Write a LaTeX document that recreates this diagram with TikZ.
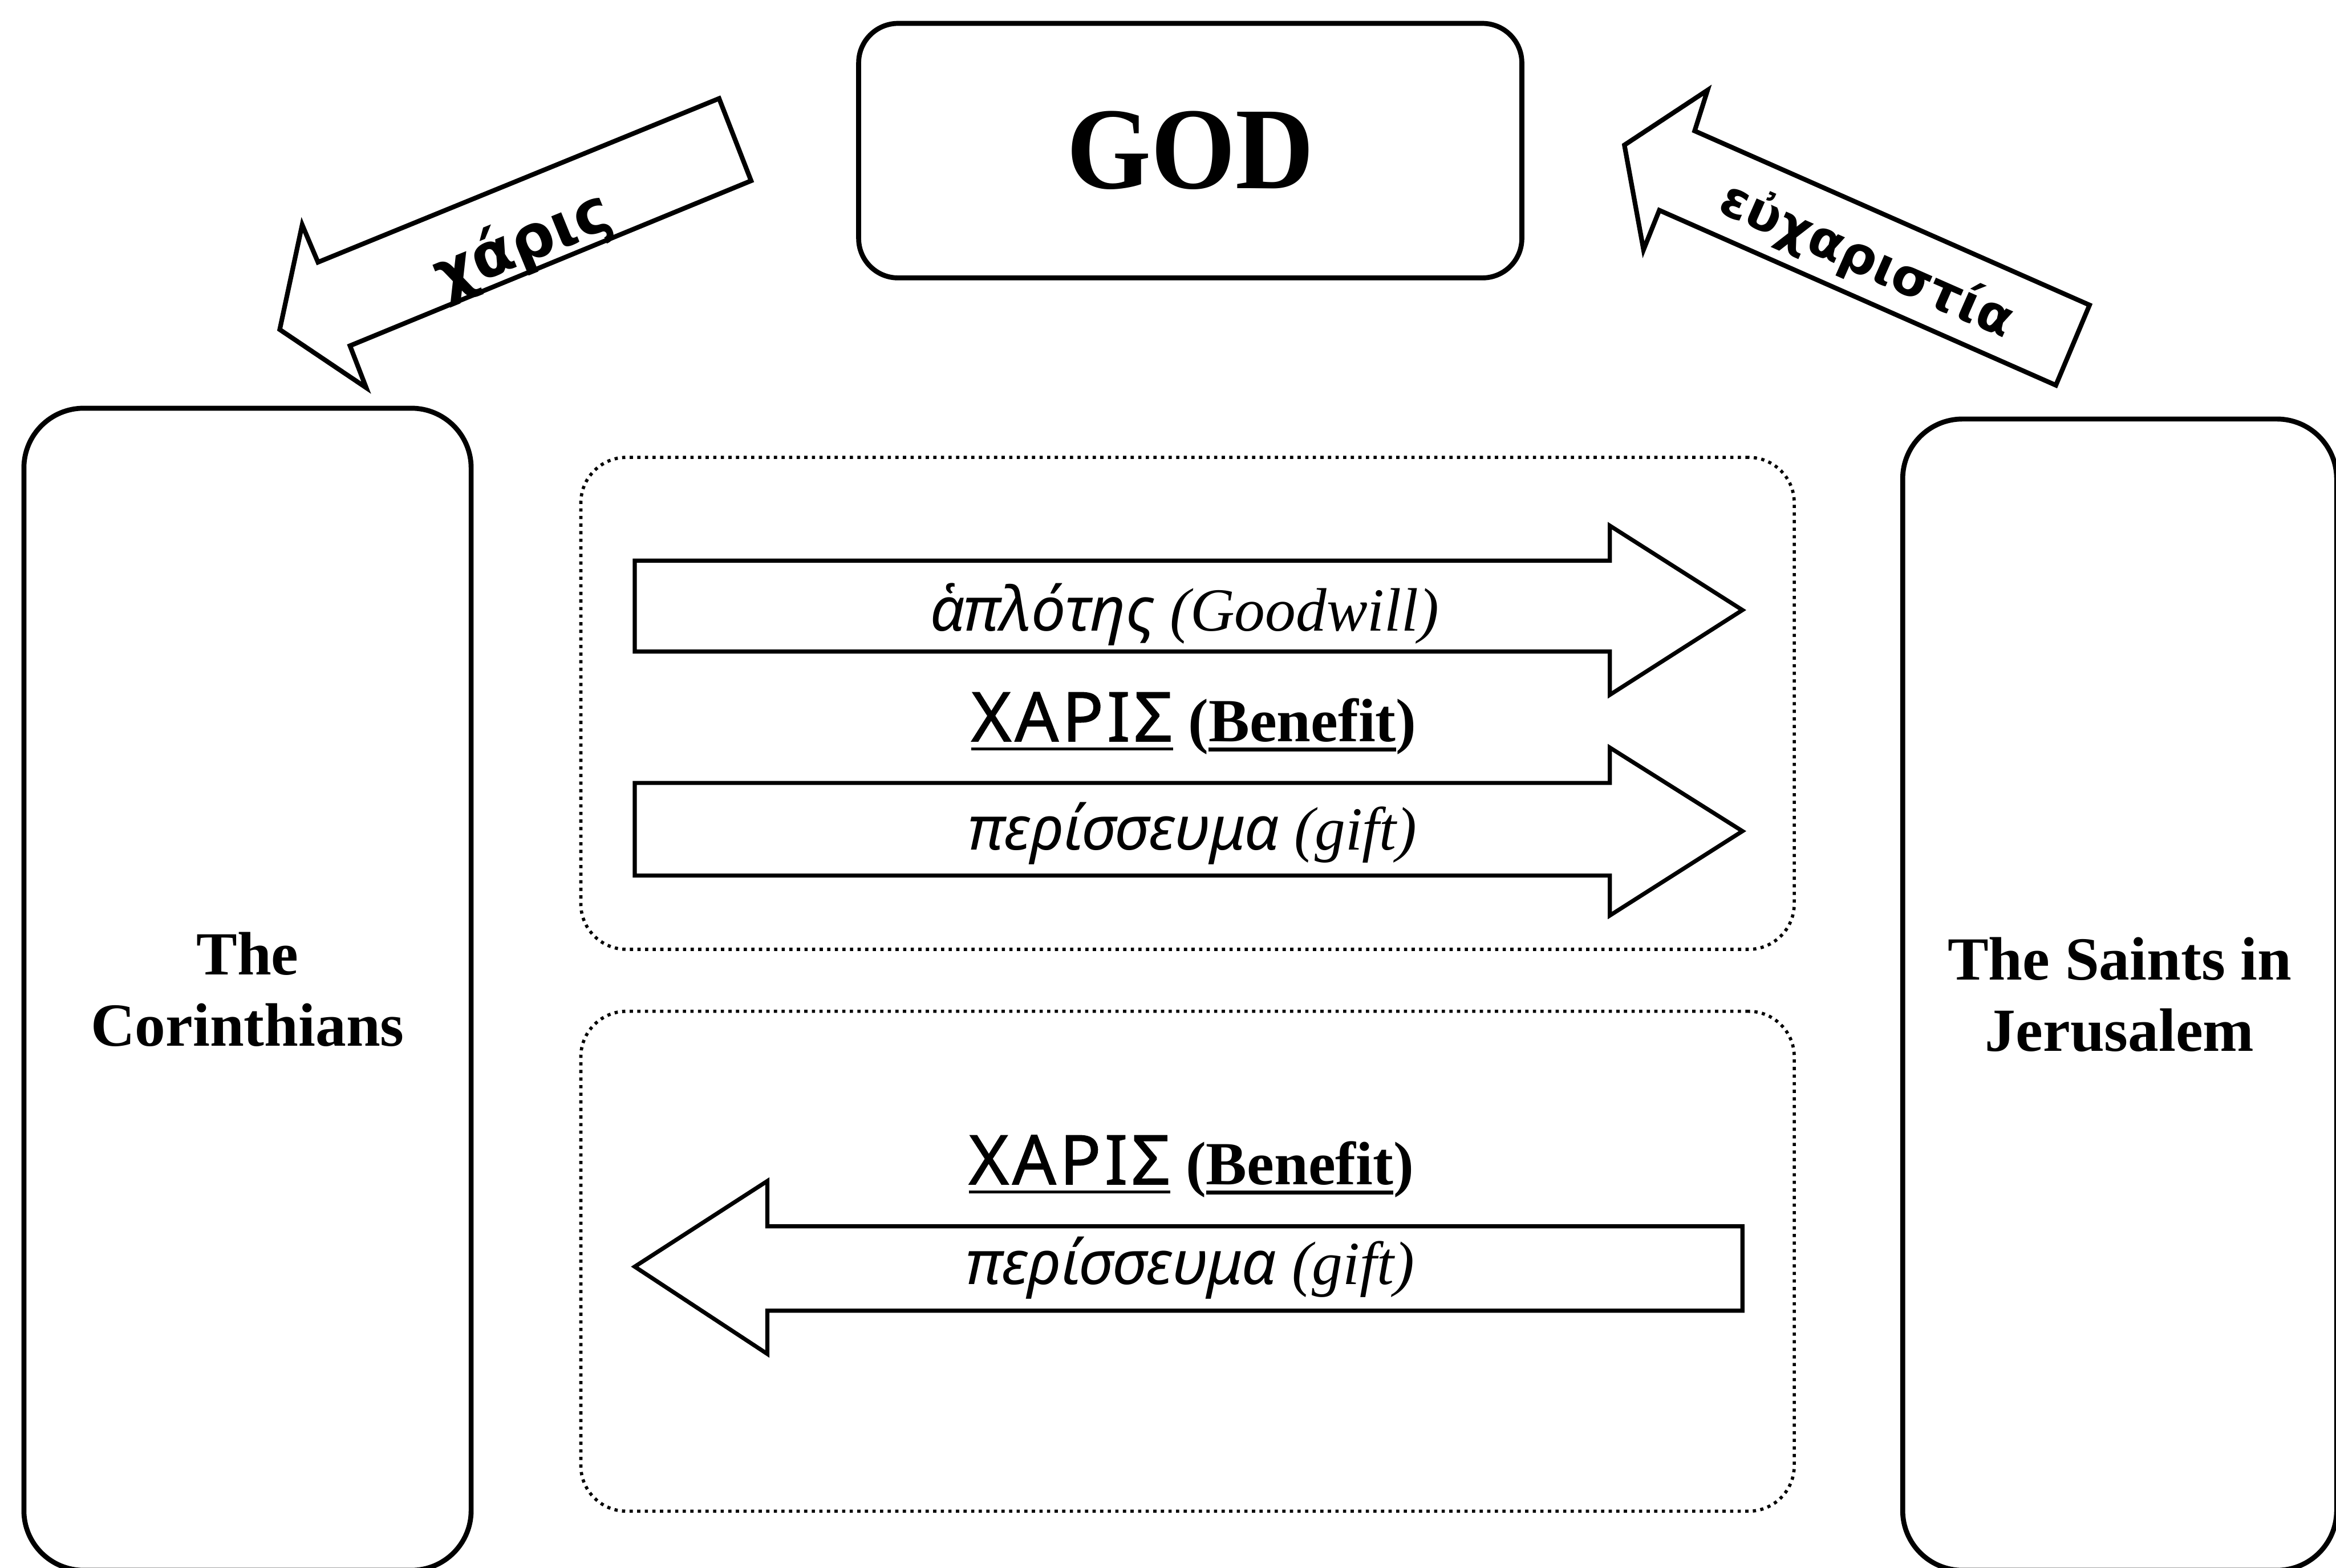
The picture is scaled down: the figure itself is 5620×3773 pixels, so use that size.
\documentclass[tikz,border=0pt]{standalone}
\usepackage{fontspec}
\usepackage{graphicx}
\setmainfont{Liberation Serif}
\newfontfamily\grsans{Noto Sans}
\newfontfamily\grcaps{Noto Sans}[FakeBold=1.2,LetterSpace=5]
\newfontfamily\tiltfont{DejaVu Sans}
\newcommand{\myulbar}[3]{\setbox0=\hbox{#3}\rlap{\rule[-#2]{\wd0}{#1}}\box0\relax}
\begin{document}
\begin{tikzpicture}[x=0.005cm,y=-0.005cm,
  solidbox/.style={draw,line width=1.7pt,rounded corners=0.72cm,inner sep=0pt},
  dotbox/.style={draw,line width=1.1pt,dash pattern=on 1.1pt off 1.5pt,rounded corners=0.55cm,inner sep=0pt,minimum width=14.61cm},
  blockarrow/.style={draw,line width=1.4pt,line join=miter},
  tiltarrow/.style={draw,line width=1.6pt,line join=miter},
  labeltext/.style={inner sep=0pt,anchor=base,font=\fontsize{21}{25}\selectfont},
  tilttext/.style={inner sep=0pt,font=\tiltfont\bfseries}
]
\useasboundingbox (0,0) rectangle (5620,3773);

% main boxes
\node[solidbox,rounded corners=0.475cm,minimum width=7.985cm,minimum height=3.065cm,
      font=\bfseries\fontsize{40}{44}\selectfont] (god) at (2863.5,362.5) {\scalebox{0.93}[1]{GOD}};
\node[solidbox,minimum width=5.385cm,minimum height=13.995cm,align=center,
      font=\bfseries\fontsize{21}{24.5}\selectfont] (cor) at (595.5,2380.5) {The\\Corinthians};
\node[solidbox,minimum width=5.225cm,minimum height=13.865cm,align=center,
      font=\bfseries\fontsize{21}{24.5}\selectfont] (saints) at (5099.5,2393.5) {The Saints in\\Jerusalem};

% dotted groups
\node[dotbox,minimum height=5.925cm] (upper) at (2857,1692.5) {};
\node[dotbox,minimum height=6.02cm] (lower) at (2857,3035) {};

% upper arrows
\draw[blockarrow] (1527,1349) -- (3873,1349) -- (3873,1265) -- (4192,1468) -- (3873,1672) -- (3873,1568) -- (1527,1568) -- cycle;
\draw[blockarrow] (1527,1884) -- (3873,1884) -- (3873,1799) -- (4192,2000) -- (3873,2203) -- (3873,2107) -- (1527,2107) -- cycle;
% lower arrow
\draw[blockarrow] (4192,2951) -- (1846,2951) -- (1846,2842) -- (1527,3048) -- (1846,3258) -- (1846,3154) -- (4192,3154) -- cycle;

% labels
\node[labeltext] (haplotes) at (2850,1518) {{\grsans\itshape ἁπλότης} {\itshape (Goodwill)}};
\node[labeltext] (charisA) at (2872,1784) {\myulbar{0.9pt}{3pt}{\grcaps\fontsize{23.5}{25}\selectfont ΧΑΡΙΣ}\ {\bfseries (\myulbar{1.4pt}{3.5pt}{Benefit})}};
\node[labeltext] (giftA) at (2869,2045) {{\grsans\itshape περίσσευμα} {\itshape (gift)}};
\node[labeltext] (charisB) at (2866,2850) {\myulbar{0.9pt}{3pt}{\grcaps\fontsize{23.5}{25}\selectfont ΧΑΡΙΣ}\ {\bfseries (\myulbar{1.4pt}{3.5pt}{Benefit})}};
\node[labeltext] (giftB) at (2863,3091) {{\grsans\itshape περίσσευμα} {\itshape (gift)}};

% tilted arrows
\draw[tiltarrow] (1730,237) -- (1807,435) -- (842,832) -- (881,933) -- (673,793) -- (727,541) -- (765,631) -- cycle;
\node[tilttext,rotate=22.2,font=\tiltfont\bfseries\fontsize{21}{24}\selectfont] (charis) at (1258,590) {χάρις};
\draw[tiltarrow] (3908,349) -- (4108,217) -- (4077,315) -- (5027,734) -- (4946,927) -- (3992,506) -- (3954,601) -- cycle;
\node[tilttext,rotate=-23.8,font=\tiltfont\bfseries\fontsize{17.5}{21}\selectfont] (eucharistia) at (4490,628) {εὐχαριστία};
\end{tikzpicture}
\end{document}
